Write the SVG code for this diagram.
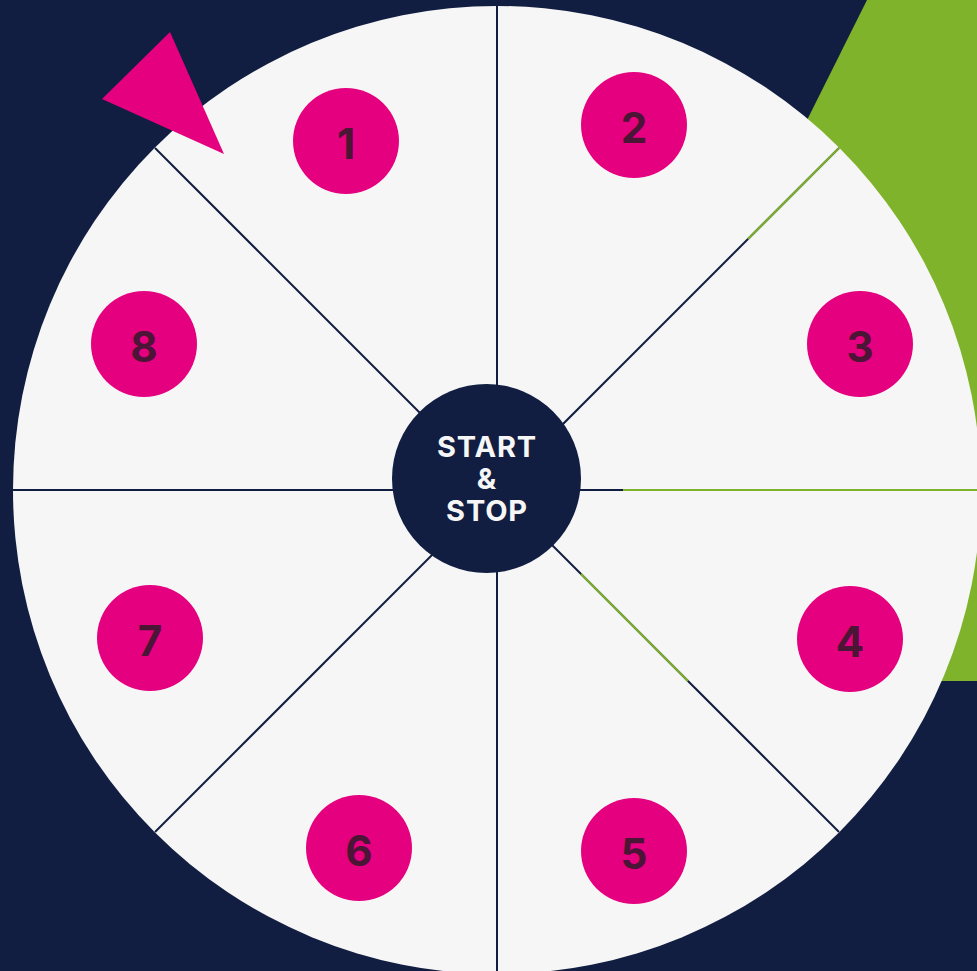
<svg xmlns="http://www.w3.org/2000/svg" width="977" height="971" viewBox="0 0 977 971">
<style>
.bg{fill:#111E41}
.wheel{fill:#F6F6F6}
.div{stroke:#111E41;stroke-width:2;fill:none}
.grn{stroke:#80B32C;stroke-width:2;fill:none}
.dot{fill:#E4007F}
.num{font-family:Inter,"Liberation Sans",sans-serif;font-weight:700;font-size:42px;fill:#4B1535;text-anchor:middle}
.hub{fill:#111E41}
.hubt{font-family:Inter,"Liberation Sans",sans-serif;font-weight:700;font-size:29px;letter-spacing:0.8px;fill:#F6F6F6;text-anchor:middle}
</style>
<rect class="bg" x="0" y="0" width="977" height="971"/>
<polygon points="867,0 977,0 977,681 527,681" fill="#80B32C"/>
<circle class="wheel" cx="497" cy="490" r="484"/>
<g id="connectors">
<line class="div" x1="497" y1="490" x2="497" y2="6"/>
<line class="div" x1="497" y1="490" x2="497" y2="974"/>
<line class="div" x1="497" y1="490" x2="13" y2="490"/>
<line class="div" x1="497" y1="490" x2="981" y2="490"/>
<line class="div" x1="497" y1="490" x2="839" y2="148"/>
<line class="div" x1="497" y1="490" x2="155" y2="148"/>
<line class="div" x1="497" y1="490" x2="155" y2="832"/>
<line class="div" x1="497" y1="490" x2="839" y2="832"/>
<line class="grn" x1="748" y1="239" x2="839" y2="148"/>
<line class="grn" x1="623" y1="490" x2="981" y2="490"/>
<line class="grn" x1="581" y1="574" x2="688" y2="681"/>
</g>
<polygon points="170,32 102,99 224,154" fill="#E4007F"/>
<g id="hub">
<circle class="hub" cx="486.5" cy="478.5" r="94.5"/>
<text class="hubt" x="487" y="457">START</text>
<text class="hubt" x="487" y="489">&amp;</text>
<text class="hubt" x="487" y="521">STOP</text>
</g>
<g id="n1"><circle class="dot" cx="346" cy="141" r="53"/><text class="num" x="346" y="159">1</text></g>
<g id="n2"><circle class="dot" cx="634" cy="125" r="53"/><text class="num" x="634" y="143">2</text></g>
<g id="n3"><circle class="dot" cx="860" cy="344" r="53"/><text class="num" x="860" y="362">3</text></g>
<g id="n4"><circle class="dot" cx="850" cy="639" r="53"/><text class="num" x="850" y="657">4</text></g>
<g id="n5"><circle class="dot" cx="634" cy="851" r="53"/><text class="num" x="634" y="869">5</text></g>
<g id="n6"><circle class="dot" cx="359" cy="848" r="53"/><text class="num" x="359" y="866">6</text></g>
<g id="n7"><circle class="dot" cx="150" cy="638" r="53"/><text class="num" x="150" y="656">7</text></g>
<g id="n8"><circle class="dot" cx="144" cy="344" r="53"/><text class="num" x="144" y="362">8</text></g>
</svg>
